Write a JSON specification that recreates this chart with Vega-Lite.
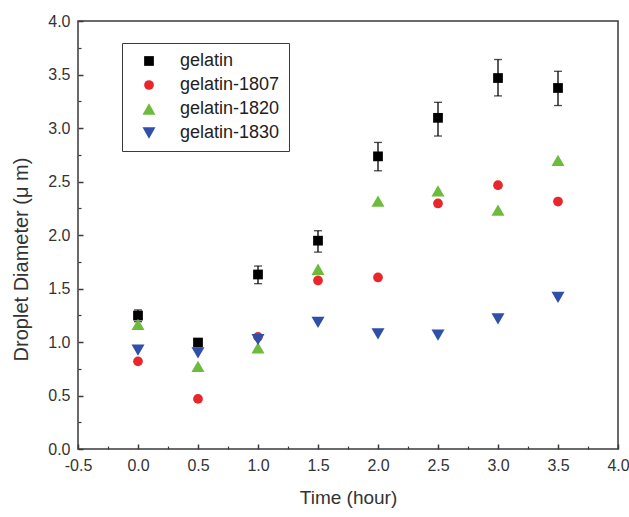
{
  "$schema": "https://vega.github.io/schema/vega-lite/v6.json",
  "width": 540,
  "height": 428,
  "autosize": {"type": "none"},
  "padding": {"left": 78, "top": 21, "right": 11, "bottom": 68},
  "background": "white",
  "config": {
    "view": {"stroke": "#3a3a3a", "strokeWidth": 1.5},
    "font": "Liberation Sans",
    "axis": {"grid": false, "domain": false, "labelOverlap": false, "labelFlush": false}
  },
  "datasets": {
    "err": [
      {"t": 0.0, "lo": 1.19, "hi": 1.30},
      {"t": 0.5, "lo": 0.97, "hi": 1.02},
      {"t": 1.0, "lo": 1.545, "hi": 1.71},
      {"t": 1.5, "lo": 1.84, "hi": 2.04},
      {"t": 2.0, "lo": 2.60, "hi": 2.865},
      {"t": 2.5, "lo": 2.925, "hi": 3.24},
      {"t": 3.0, "lo": 3.30, "hi": 3.64},
      {"t": 3.5, "lo": 3.21, "hi": 3.53}
    ],
    "pts": [
      {"t": 0.0, "series": "gelatin", "d": 1.247},
      {"t": 0.5, "series": "gelatin", "d": 0.995},
      {"t": 1.0, "series": "gelatin", "d": 1.631},
      {"t": 1.5, "series": "gelatin", "d": 1.947},
      {"t": 2.0, "series": "gelatin", "d": 2.735},
      {"t": 2.5, "series": "gelatin", "d": 3.095},
      {"t": 3.0, "series": "gelatin", "d": 3.467},
      {"t": 3.5, "series": "gelatin", "d": 3.374},
      {"t": 0.0, "series": "gelatin-1807", "d": 0.819},
      {"t": 0.5, "series": "gelatin-1807", "d": 0.468},
      {"t": 1.0, "series": "gelatin-1807", "d": 1.048},
      {"t": 1.5, "series": "gelatin-1807", "d": 1.575},
      {"t": 2.0, "series": "gelatin-1807", "d": 1.603},
      {"t": 2.5, "series": "gelatin-1807", "d": 2.295},
      {"t": 3.0, "series": "gelatin-1807", "d": 2.465},
      {"t": 3.5, "series": "gelatin-1807", "d": 2.313},
      {"t": 0.0, "series": "gelatin-1820", "d": 1.165},
      {"t": 0.5, "series": "gelatin-1820", "d": 0.772},
      {"t": 1.0, "series": "gelatin-1820", "d": 0.946},
      {"t": 1.5, "series": "gelatin-1820", "d": 1.68},
      {"t": 2.0, "series": "gelatin-1820", "d": 2.316},
      {"t": 2.5, "series": "gelatin-1820", "d": 2.412},
      {"t": 3.0, "series": "gelatin-1820", "d": 2.233},
      {"t": 3.5, "series": "gelatin-1820", "d": 2.698},
      {"t": 0.0, "series": "gelatin-1830", "d": 0.924},
      {"t": 0.5, "series": "gelatin-1830", "d": 0.899},
      {"t": 1.0, "series": "gelatin-1830", "d": 1.023},
      {"t": 1.5, "series": "gelatin-1830", "d": 1.184},
      {"t": 2.0, "series": "gelatin-1830", "d": 1.076},
      {"t": 2.5, "series": "gelatin-1830", "d": 1.064},
      {"t": 3.0, "series": "gelatin-1830", "d": 1.216},
      {"t": 3.5, "series": "gelatin-1830", "d": 1.417}
    ]
  },
  "layer": [
    {
      "data": {"name": "err"},
      "mark": {"type": "errorbar", "color": "black", "thickness": 1.3, "ticks": {"size": 8, "thickness": 1.3, "color": "black"}},
      "encoding": {
        "x": {
          "field": "t", "type": "quantitative",
          "scale": {"domain": [-0.5, 4], "nice": false, "zero": false},
          "axis": {
            "orient": "bottom", "title": "Time (hour)",
            "values": [-0.5, 0, 0.5, 1, 1.5, 2, 2.5, 3, 3.5, 4],
            "labelExpr": "datum.value < 0 ? '-' + format(-datum.value, '.1f') : format(datum.value, '.1f')",
            "labelFontSize": 16, "labelColor": "#333", "labelPadding": 13,
            "tickSize": -5, "tickWidth": 1.5, "tickColor": "#3a3a3a",
            "titleFontSize": 19, "titleFontWeight": "normal", "titleColor": "#333", "titlePadding": 15
          }
        },
        "y": {
          "field": "lo", "type": "quantitative",
          "scale": {"domain": [0, 4], "nice": false},
          "axis": {
            "orient": "left", "title": "Droplet Diameter (μ m)",
            "values": [0, 0.5, 1, 1.5, 2, 2.5, 3, 3.5, 4], "format": ".1f",
            "labelFontSize": 16, "labelColor": "#333", "labelPadding": 13,
            "tickSize": -5, "tickWidth": 1.5, "tickColor": "#3a3a3a",
            "titleFontSize": 20, "titleFontWeight": "normal", "titleColor": "#333", "titlePadding": 16, "titleY": 238
          }
        },
        "y2": {"field": "hi"}
      }
    },
    {
      "data": {"name": "pts"},
      "mark": {"type": "point", "filled": true, "opacity": 1},
      "encoding": {
        "x": {
          "field": "t", "type": "quantitative",
          "axis": {
            "orient": "bottom", "title": null, "labels": false,
            "values": [-0.25, 0.25, 0.75, 1.25, 1.75, 2.25, 2.75, 3.25, 3.75],
            "tickSize": -3, "tickWidth": 1.2, "tickColor": "#3a3a3a"
          }
        },
        "y": {
          "field": "d", "type": "quantitative",
          "axis": {
            "orient": "left", "title": null, "labels": false,
            "values": [0.25, 0.75, 1.25, 1.75, 2.25, 2.75, 3.25, 3.75],
            "tickSize": -3, "tickWidth": 1.2, "tickColor": "#3a3a3a"
          }
        },
        "shape": {
          "field": "series", "type": "nominal",
          "scale": {"domain": ["gelatin", "gelatin-1807", "gelatin-1820", "gelatin-1830"], "range": ["square", "circle", "triangle-up", "triangle-down"]},
          "legend": {
            "title": null, "orient": "none", "legendX": 44, "legendY": 22,
            "strokeColor": "#3a3a3a", "fillColor": "white",
            "padding": 9, "symbolOffset": 9, "labelOffset": 22, "rowPadding": 6,
            "labelFontSize": 18, "labelColor": "#222", "symbolSize": 90, "symbolStrokeWidth": 0,
            "encode": {"legend": {"update": {"strokeWidth": {"value": 1.5}}}}
          }
        },
        "color": {
          "field": "series", "type": "nominal",
          "scale": {"domain": ["gelatin", "gelatin-1807", "gelatin-1820", "gelatin-1830"], "range": ["#000000", "#e8262b", "#6cbb3c", "#2f4fa8"]},
          "legend": {
            "title": null, "orient": "none", "legendX": 44, "legendY": 22,
            "strokeColor": "#3a3a3a", "fillColor": "white",
            "padding": 9, "symbolOffset": 9, "labelOffset": 22, "rowPadding": 6,
            "labelFontSize": 18, "labelColor": "#222", "symbolSize": 90, "symbolStrokeWidth": 0,
            "encode": {"legend": {"update": {"strokeWidth": {"value": 1.5}}}}
          }
        },
        "size": {
          "field": "series", "type": "nominal",
          "scale": {"type": "ordinal", "domain": ["gelatin", "gelatin-1807", "gelatin-1820", "gelatin-1830"], "range": [95, 95, 170, 170]},
          "legend": null
        }
      }
    }
  ],
  "resolve": {"axis": {"x": "independent", "y": "independent"}}
}
